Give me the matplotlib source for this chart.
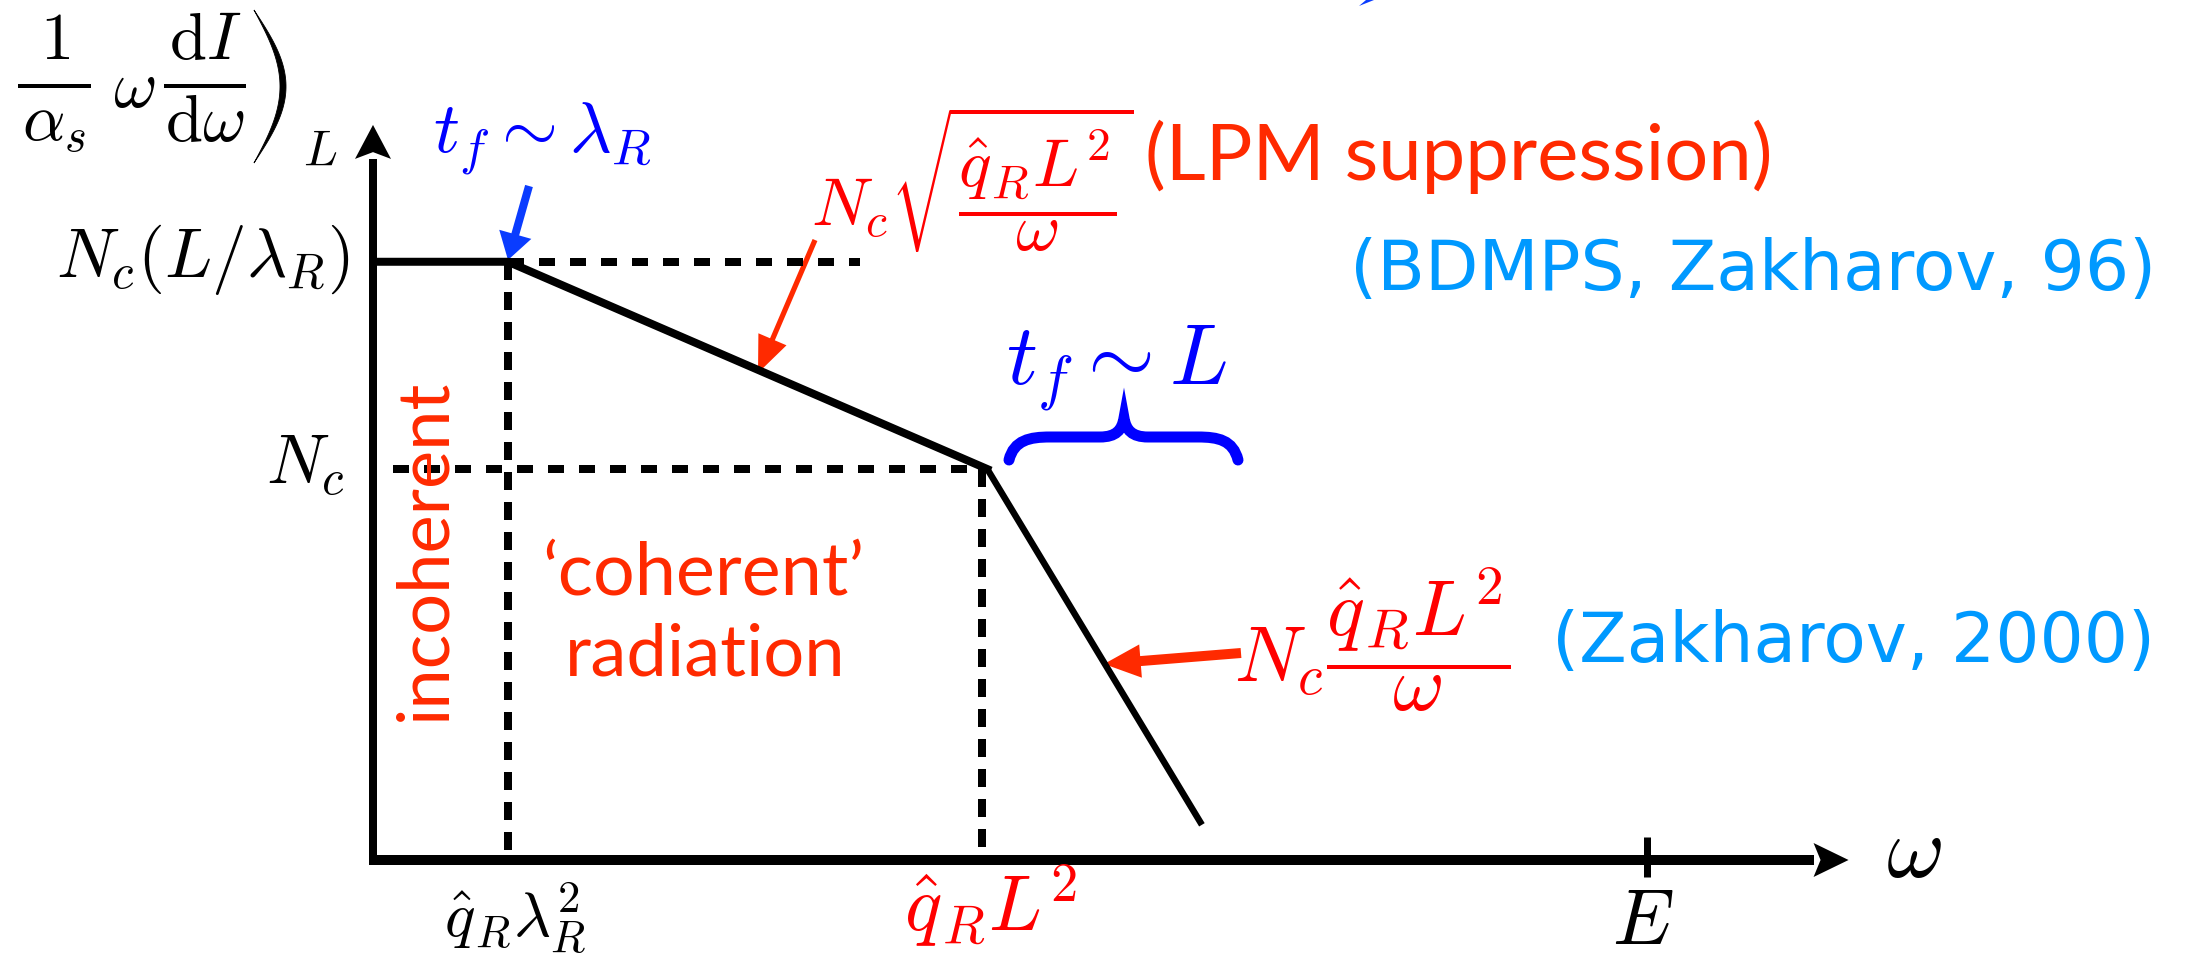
import numpy as np
import matplotlib.pyplot as plt
from matplotlib.path import Path
from matplotlib.patches import PathPatch, FancyArrowPatch, Polygon

plt.rcParams['mathtext.fontset'] = 'cm'
plt.rcParams['lines.scale_dashes'] = False

# schematic spectrum: omega in units of q_R*lambda_R^2, height in units of N_c
omega_pts = [0.0, 1.0, 4.55, 6.14]
spec_pts = [1.53, 1.53, 1.0, 0.09]
omega_E = 9.44
omega_end = 10.93
spec_top = 1.88

# reference layout: pixel origin of the axes and pixels per unit
OX, OY, SX, SY = 373, 860, 135.0, 391.0
W, H = 2210, 958


def P(x, y):
    """reference pixel position -> data coords"""
    return ((x - OX) / SX, (OY - y) / SY)


def lw(px):
    return px * 72 / 100.0


RED = "#ff0000"
ORANGE = "#ff2a00"
BLUE = "#0000ff"
ABLUE = "#0a3cff"
CYAN = "#0099ff"
SANS = "Lato"
ROUND = "DejaVu Sans"

fig = plt.figure(figsize=(W / 100, H / 100), dpi=100)
ax = fig.add_axes([0, 0, 1, 1])
ax.set_xlim(-OX / SX, (W - OX) / SX)
ax.set_ylim(-(H - OY) / SY, OY / SY)
ax.axis("off")

# axes with arrow heads
hx, hy = 35 / SX, 17 / SY
ax.plot([-2 / SX, omega_end - hx], [0, 0], color="k", lw=lw(10), solid_capstyle="butt")
ax.add_patch(Polygon([(omega_end, 0), (omega_end - hx, hy), (omega_end - 0.8 * hx, 0),
                      (omega_end - hx, -hy)], closed=True, color="k", lw=0))
vx, vy = 18 / SX, 34 / SY
ax.plot([0, 0], [-5 / SY, spec_top - vy], color="k", lw=lw(8), solid_capstyle="butt")
ax.add_patch(Polygon([(0, spec_top), (vx, spec_top - vy), (0, spec_top - 0.8 * vy),
                      (-vx, spec_top - vy)], closed=True, color="k", lw=0))

# E tick
ax.plot([omega_E, omega_E], [-17 / SY, 23 / SY], color="k", lw=lw(7), solid_capstyle="butt")

# dashed guides
dot = dict(color="k", lw=lw(8), dashes=(lw(16), lw(15)), dash_capstyle="butt")
ax.plot([omega_pts[1], (860 - OX) / SX], [spec_pts[1]] * 2, **dot)
ax.plot([20 / SX, omega_pts[2]], [spec_pts[2]] * 2, **dot)
vdash = dict(color="k", lw=lw(8), dashes=(lw(18), lw(12)), dash_capstyle="butt")
ax.plot([omega_pts[1]] * 2, [spec_pts[1], 0], **vdash)
ax.plot([omega_pts[2] - 5 / SX] * 2, [spec_pts[2], 0], **vdash)

# spectrum
ax.plot(omega_pts[:3], spec_pts[:3], color="k", lw=lw(8), solid_joinstyle="miter")
ax.plot(omega_pts[2:], spec_pts[2:], color="k", lw=lw(6.5), solid_capstyle="butt")

# y label, built from pieces
fs_y = 48
ax.text(*P(55, 40), r"$1$", fontsize=fs_y, ha="center", va="center")
ax.text(*P(54, 122), r"$\alpha_s$", fontsize=fs_y, ha="center", va="center")
ax.plot(*zip(P(20, 86), P(89, 86)), color="k", lw=lw(4))
ax.text(*P(134, 88), r"$\omega$", fontsize=fs_y, ha="center", va="center")
ax.text(*P(205, 40), r"$\mathrm{d}I$", fontsize=fs_y, ha="center", va="center")
ax.text(*P(205, 122), r"$\mathrm{d}\omega$", fontsize=fs_y, ha="center", va="center")
ax.plot(*zip(P(166, 86), P(244, 86)), color="k", lw=lw(4))
t = np.linspace(0, 1, 60)
outer = [P(254 + 32 * np.sin(np.pi * s), 10 + 153 * s) for s in t]
inner = [P(254 + 26 * np.sin(np.pi * s), 10 + 153 * s) for s in t[::-1]]
ax.add_patch(Polygon(outer + inner, closed=True, color="k", lw=0.6))
ax.text(*P(303, 165), r"$L$", fontsize=36, ha="left", va="baseline")

# y levels
ax.text(*P(350, 277), r"$N_c(L/\lambda_R)$", fontsize=50, ha="right", va="baseline")
ax.text(*P(345, 484), r"$N_c$", fontsize=50, ha="right", va="baseline")

# x labels
ax.text(*P(515, 938), r"$\hat{q}_R\lambda_R^2$", fontsize=46, ha="center", va="baseline")
ax.text(*P(990, 932), r"$\hat{q}_R L^2$", fontsize=56, ha="center", va="baseline", color=RED)
ax.text(*P(1643, 944), r"$E$", fontsize=56, ha="center", va="baseline")
ax.text(*P(1886, 853), r"$\omega$", fontsize=64, ha="left", va="center")

# formation time labels
ax.text(*P(433, 152), r"$t_f\sim\lambda_R$", fontsize=52, ha="left", va="baseline", color=BLUE)
ax.text(*P(1006, 385), r"$t_f\sim L$", fontsize=62, ha="left", va="baseline", color=BLUE)

# brace
bv = [(1009, 460), (1014, 440), (1030, 437), (1050, 437), (1100, 437),
      (1116, 437), (1122, 430), (1124, 418), (1126, 430), (1132, 437),
      (1148, 437), (1198, 437), (1218, 437), (1233, 440), (1238, 460)]
bc = [Path.MOVETO, Path.CURVE4, Path.CURVE4, Path.CURVE4, Path.LINETO,
      Path.CURVE4, Path.CURVE4, Path.CURVE4, Path.CURVE4, Path.CURVE4,
      Path.CURVE4, Path.LINETO, Path.CURVE4, Path.CURVE4, Path.CURVE4]
ax.add_patch(PathPatch(Path([P(*v) for v in bv], bc), fill=False, ec=BLUE,
                       lw=lw(11), capstyle="round"))

# LPM regime
ax.text(*P(811, 180), r"$N_c\sqrt{\dfrac{\hat{q}_R L^2}{\omega}}$", fontsize=49,
        ha="left", va="center", color=RED)
ax.text(*P(1145, 180), "(LPM suppression)", fontsize=56, ha="left", va="baseline",
        color=ORANGE, family=SANS)
ax.text(*P(1350, 290), "(BDMPS, Zakharov, 96)", fontsize=50, ha="left", va="baseline",
        color=CYAN, family=ROUND)

# single scattering regime
ax.text(*P(1234, 640), r"$N_c\dfrac{\hat{q}_R L^2}{\omega}$", fontsize=57,
        ha="left", va="center", color=RED)
ax.text(*P(1552, 662), "(Zakharov, 2000)", fontsize=50, ha="left", va="baseline",
        color=CYAN, family=ROUND)

# region labels
ax.text(*P(425, 550), "incoherent", fontsize=52, rotation=90, ha="center", va="center",
        color=ORANGE, family=SANS)
ax.text(*P(703, 574), "\u2018coherent\u2019", fontsize=53, ha="center", va="center",
        color=ORANGE, family=SANS)
ax.text(*P(705, 655), "radiation", fontsize=52, ha="center", va="center",
        color=ORANGE, family=SANS)


def arrow(p0, p1, color, hl, hw, tw, ms):
    ax.add_patch(FancyArrowPatch(P(*p0), P(*p1),
                 arrowstyle=f"simple,head_length={hl},head_width={hw},tail_width={tw}",
                 mutation_scale=ms, color=color, lw=0, shrinkA=0, shrinkB=0))


arrow((529, 186), (508, 260), ABLUE, 0.8, 1.0, 0.24, 24)
arrow((815, 240), (758, 373), ORANGE, 1.2, 1.0, 0.17, 22)
arrow((1241, 653), (1104, 664), ORANGE, 1.1, 1.0, 0.3, 24)

# clipped fragment at the top edge
ax.add_patch(Polygon([P(1359, 6), P(1366, 0), P(1374, 0)], closed=True, color=ABLUE, lw=0))

fig.savefig("out.png", dpi=100)
